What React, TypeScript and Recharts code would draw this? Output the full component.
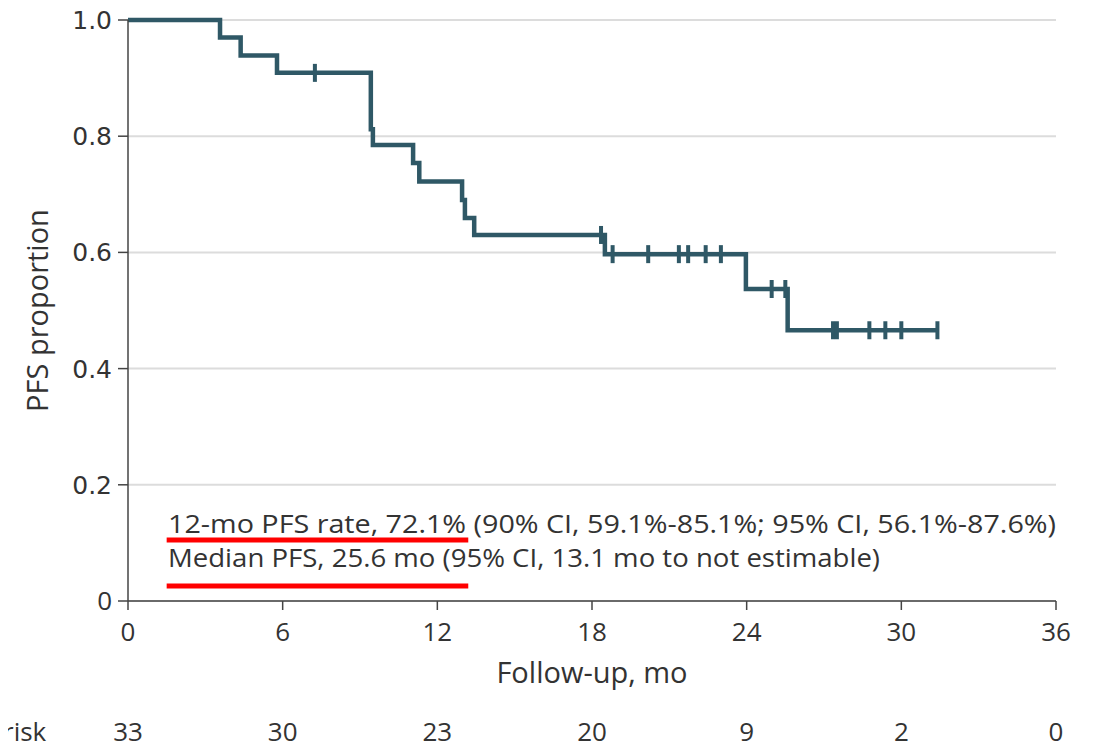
import { ComposedChart, Line, Scatter, XAxis, YAxis, CartesianGrid, ReferenceLine } from 'recharts'

const X_TICKS = [0, 6, 12, 18, 24, 30, 36]
const AT_RISK = [33, 30, 23, 20, 9, 2, 0]
const Y_TICKS = [0, 0.2, 0.4, 0.6, 0.8, 1.0]

// KM steps: time (mo) and PFS proportion after each event
const STEP_TIMES = [0, 3.57, 4.37, 5.78, 9.42, 9.5, 11.06, 11.3, 12.96, 13.07, 13.43, 18.5, 23.97, 25.59, 31.4]
const STEP_PFS = [1.0, 0.970, 0.939, 0.909, 0.812, 0.785, 0.754, 0.722, 0.690, 0.659, 0.630, 0.597, 0.537, 0.466, 0.466]

// censored observations
const CENSOR_TIMES = [7.25, 18.35, 18.8, 20.18, 21.37, 21.73, 22.41, 23.0, 24.97, 25.5, 27.35, 27.5, 28.76, 29.38, 30.0, 31.4]
const CENSOR_PFS = [0.909, 0.630, 0.597, 0.597, 0.597, 0.597, 0.597, 0.597, 0.537, 0.537, 0.466, 0.466, 0.466, 0.466, 0.466, 0.466]

const NOTES = [
  '12-mo PFS rate, 72.1% (90% CI, 59.1%-85.1%; 95% CI, 56.1%-87.6%)',
  'Median PFS, 25.6 mo (95% CI, 13.1 mo to not estimable)',
]
const NOTE_WIDTHS = [888, 712]

const COLOR = '#2f5866'
const TEXT = '#333'
const SANS = '"Open Sans", "Noto Sans", sans-serif'

const steps = STEP_TIMES.map((t, i) => ({ t, s: STEP_PFS[i] }))
const censors = CENSOR_TIMES.map((t, i) => ({ t, s: CENSOR_PFS[i] }))

function XTick({ x, y, payload }: any) {
  const i = X_TICKS.indexOf(payload.value)
  return (
    <g>
      <text x={x} y={y + 27} textAnchor="middle" fontFamily={SANS} fontSize={26} fill={TEXT}>{payload.value}</text>
      <text x={x} y={y + 127} textAnchor="middle" fontFamily={SANS} fontSize={26} fill={TEXT}>{AT_RISK[i]}</text>
    </g>
  )
}

function YTick({ x, y, payload }: any) {
  const v = payload.value
  return (
    <text x={x} y={y + 9} textAnchor="end"
      fontFamily={v === 0 ? SANS : '"DejaVu Sans", sans-serif'} fontSize={v === 0 ? 26 : 25} fill={TEXT}>
      {v === 0 ? '0' : v.toFixed(1)}
    </text>
  )
}

function CensorMark({ cx, cy }: any) {
  return <rect x={cx - 2} y={cy - 9} width={4} height={18} fill={COLOR} />
}

export default function App() {
  return (
    <div style={{ position: 'relative', width: 1099, height: 749, marginLeft: -8, marginTop: -8 }}>
      <ComposedChart width={1099} height={749} data={steps} margin={{ top: 20, right: 43, left: 0, bottom: 0 }}>
        <CartesianGrid vertical={false} stroke="#dcdcdc" strokeWidth={2} />
        <XAxis
          dataKey="t" type="number" domain={[0, 36]} ticks={X_TICKS} height={148}
          stroke="#444" strokeWidth={1.5} tickSize={9} tickMargin={4} tick={<XTick />}
          label={{ value: 'Follow-up, mo', position: 'insideTop', offset: 61, fill: TEXT, fontSize: 29, fontFamily: SANS }}
        />
        <YAxis
          type="number" domain={[0, 1]} ticks={Y_TICKS} width={128}
          stroke="#444" strokeWidth={1.5} tickSize={10} tickMargin={6} tick={<YTick />}
          label={{ value: 'PFS proportion', angle: -90, position: 'center', dx: -26, fill: TEXT, fontSize: 29, fontFamily: SANS }}
        />
        <ReferenceLine segment={[{ x: 1.5, y: 0.105 }, { x: 13.2, y: 0.105 }]} stroke="#ff0000" strokeWidth={5} />
        <ReferenceLine segment={[{ x: 1.5, y: 0.026 }, { x: 13.2, y: 0.026 }]} stroke="#ff0000" strokeWidth={5} />
        <Line type="stepAfter" dataKey="s" stroke={COLOR} strokeWidth={4.5} dot={false} isAnimationActive={false} />
        <Scatter data={censors} dataKey="s" shape={<CensorMark />} isAnimationActive={false} />
      </ComposedChart>
      <svg width={1099} height={749} style={{ position: 'absolute', left: 0, top: 0, pointerEvents: 'none' }}>
        {NOTES.map((n, i) => (
          <text key={i} x={168} y={533 + i * 34} textLength={NOTE_WIDTHS[i]} lengthAdjust="spacingAndGlyphs"
            fontFamily={SANS} fontSize={26} fill={TEXT}>{n}</text>
        ))}
        <text x={3} y={741} fontFamily={SANS} fontSize={26} fill={TEXT}>risk</text>
      </svg>
    </div>
  )
}
